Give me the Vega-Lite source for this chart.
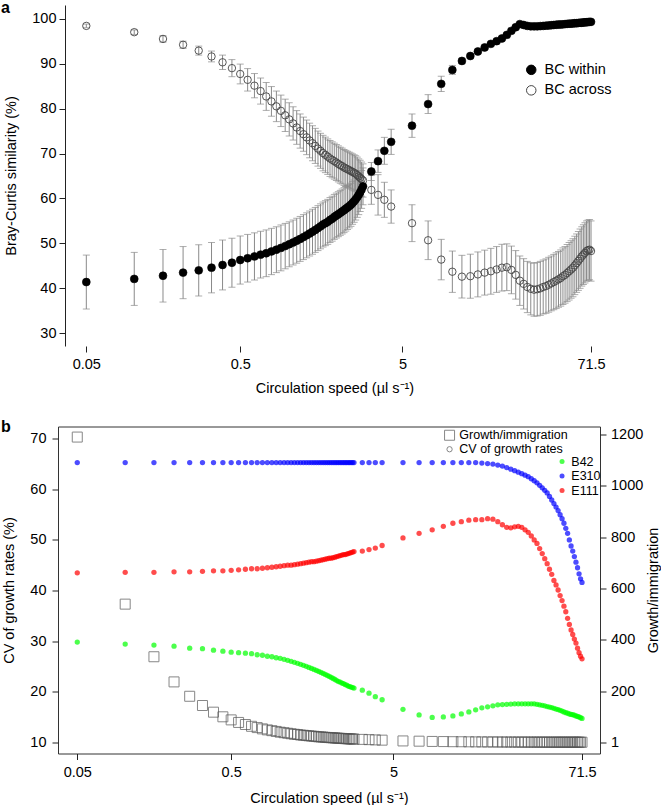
{
  "$schema": "https://vega.github.io/schema/vega-lite/v6.json",
  "padding": 0,
  "spacing": 22.5,
  "config": {
    "font": "Liberation Sans",
    "view": {"stroke": null},
    "axis": {"labelFont": "Liberation Sans", "titleFont": "Liberation Sans", "labelFontSize": 14.5, "titleFontSize": 14.5, "titleFontWeight": "normal", "labelColor": "#000", "titleColor": "#000", "domainColor": "#222", "tickColor": "#222", "tickSize": 6, "grid": false, "labelPadding": 3},
    "legend": {"labelFont": "Liberation Sans", "labelColor": "#000", "padding": 0},
    "title": {"font": "Liberation Sans", "color": "#000"}
  },
  "datasets": {
    "d": [
      {"s":0.05,"w":41.4,"ws":6.0,"a":98.4,"as":0.4,"B42":29.8,"E310":65.3,"E111":43.5,"g":1190},
      {"s":0.106,"w":42.1,"ws":5.9,"a":97.0,"as":0.5,"B42":29.4,"E310":65.3,"E111":43.6,"g":539},
      {"s":0.163,"w":42.8,"ws":5.85,"a":95.5,"as":0.7,"B42":29.2,"E310":65.3,"E111":43.6,"g":334},
      {"s":0.219,"w":43.5,"ws":5.8,"a":94.2,"as":0.8,"B42":29.0,"E310":65.3,"E111":43.7,"g":236},
      {"s":0.275,"w":44.0,"ws":5.7,"a":92.9,"as":1.0,"B42":28.6,"E310":65.3,"E111":43.7,"g":180},
      {"s":0.331,"w":44.6,"ws":5.6,"a":91.6,"as":1.2,"B42":28.5,"E310":65.3,"E111":43.8,"g":144},
      {"s":0.388,"w":45.2,"ws":5.55,"a":90.3,"as":1.6,"B42":28.2,"E310":65.3,"E111":43.9,"g":118},
      {"s":0.444,"w":45.7,"ws":5.45,"a":89.0,"as":1.9,"B42":28.0,"E310":65.3,"E111":43.9,"g":100},
      {"s":0.5,"w":46.3,"ws":5.35,"a":87.7,"as":2.2,"B42":27.8,"E310":65.3,"E111":44.0,"g":88},
      {"s":0.556,"w":46.7,"ws":5.3,"a":86.4,"as":2.5,"B42":27.7,"E310":65.3,"E111":44.1,"g":78},
      {"s":0.613,"w":47.1,"ws":5.25,"a":85.1,"as":2.7,"B42":27.6,"E310":65.3,"E111":44.2,"g":70},
      {"s":0.669,"w":47.5,"ws":5.2,"a":83.9,"as":2.9,"B42":27.5,"E310":65.3,"E111":44.3,"g":63},
      {"s":0.725,"w":47.8,"ws":5.2,"a":82.7,"as":3.1,"B42":27.3,"E310":65.3,"E111":44.3,"g":58},
      {"s":0.781,"w":48.2,"ws":5.15,"a":81.6,"as":3.3,"B42":27.2,"E310":65.3,"E111":44.4,"g":53},
      {"s":0.838,"w":48.6,"ws":5.1,"a":80.5,"as":3.4,"B42":27.0,"E310":65.3,"E111":44.5,"g":49},
      {"s":0.894,"w":49.0,"ws":5.1,"a":79.5,"as":3.5,"B42":26.9,"E310":65.3,"E111":44.6,"g":46},
      {"s":0.95,"w":49.4,"ws":5.05,"a":78.5,"as":3.6,"B42":26.7,"E310":65.3,"E111":44.7,"g":43},
      {"s":1.006,"w":49.8,"ws":5.0,"a":77.6,"as":3.7,"B42":26.6,"E310":65.3,"E111":44.8,"g":40},
      {"s":1.063,"w":50.2,"ws":5.0,"a":76.7,"as":3.7,"B42":26.4,"E310":65.3,"E111":44.9,"g":38},
      {"s":1.119,"w":50.6,"ws":5.0,"a":75.8,"as":3.75,"B42":26.2,"E310":65.3,"E111":45.0,"g":36},
      {"s":1.175,"w":51.0,"ws":5.0,"a":75.0,"as":3.8,"B42":26.0,"E310":65.3,"E111":45.0,"g":34},
      {"s":1.231,"w":51.4,"ws":5.0,"a":74.3,"as":3.8,"B42":25.8,"E310":65.3,"E111":45.1,"g":32},
      {"s":1.288,"w":51.8,"ws":5.0,"a":73.6,"as":3.85,"B42":25.6,"E310":65.3,"E111":45.2,"g":31},
      {"s":1.344,"w":52.2,"ws":5.0,"a":72.9,"as":3.85,"B42":25.4,"E310":65.3,"E111":45.3,"g":29},
      {"s":1.4,"w":52.6,"ws":5.0,"a":72.3,"as":3.9,"B42":25.2,"E310":65.3,"E111":45.4,"g":28},
      {"s":1.456,"w":53.0,"ws":5.0,"a":71.7,"as":3.9,"B42":25.0,"E310":65.3,"E111":45.5,"g":27},
      {"s":1.513,"w":53.4,"ws":5.0,"a":71.1,"as":3.9,"B42":24.8,"E310":65.3,"E111":45.6,"g":26},
      {"s":1.569,"w":53.8,"ws":5.0,"a":70.6,"as":3.9,"B42":24.6,"E310":65.3,"E111":45.7,"g":25},
      {"s":1.625,"w":54.2,"ws":5.0,"a":70.1,"as":3.95,"B42":24.4,"E310":65.3,"E111":45.7,"g":24},
      {"s":1.681,"w":54.5,"ws":5.0,"a":69.7,"as":3.95,"B42":24.2,"E310":65.3,"E111":45.8,"g":23},
      {"s":1.738,"w":54.8,"ws":5.0,"a":69.3,"as":3.95,"B42":24.0,"E310":65.3,"E111":45.9,"g":22},
      {"s":1.794,"w":55.2,"ws":5.0,"a":68.9,"as":4.0,"B42":23.8,"E310":65.3,"E111":46.0,"g":21.5},
      {"s":1.85,"w":55.5,"ws":5.0,"a":68.6,"as":4.0,"B42":23.6,"E310":65.3,"E111":46.1,"g":21},
      {"s":1.906,"w":55.9,"ws":5.0,"a":68.3,"as":4.0,"B42":23.4,"E310":65.3,"E111":46.2,"g":20},
      {"s":1.963,"w":56.2,"ws":5.0,"a":68.0,"as":4.0,"B42":23.2,"E310":65.3,"E111":46.3,"g":19.5},
      {"s":2.019,"w":56.5,"ws":5.0,"a":67.7,"as":4.0,"B42":23.0,"E310":65.3,"E111":46.4,"g":19},
      {"s":2.075,"w":56.8,"ws":5.0,"a":67.4,"as":4.0,"B42":22.8,"E310":65.3,"E111":46.4,"g":18.5},
      {"s":2.131,"w":57.1,"ws":5.0,"a":67.2,"as":4.0,"B42":22.6,"E310":65.3,"E111":46.5,"g":18},
      {"s":2.188,"w":57.4,"ws":5.0,"a":66.9,"as":4.0,"B42":22.4,"E310":65.3,"E111":46.6,"g":17.5},
      {"s":2.244,"w":57.7,"ws":4.95,"a":66.7,"as":4.0,"B42":22.2,"E310":65.3,"E111":46.7,"g":17},
      {"s":2.3,"w":58.0,"ws":4.9,"a":66.5,"as":4.0,"B42":22.0,"E310":65.3,"E111":46.8,"g":16.5},
      {"s":2.356,"w":58.3,"ws":4.85,"a":66.3,"as":4.0,"B42":21.9,"E310":65.3,"E111":46.9,"g":16},
      {"s":2.413,"w":58.6,"ws":4.8,"a":66.1,"as":4.0,"B42":21.7,"E310":65.3,"E111":47.0,"g":15.7},
      {"s":2.469,"w":59.0,"ws":4.75,"a":65.9,"as":4.0,"B42":21.6,"E310":65.3,"E111":47.1,"g":15.3},
      {"s":2.525,"w":59.4,"ws":4.7,"a":65.7,"as":4.0,"B42":21.4,"E310":65.3,"E111":47.1,"g":15},
      {"s":2.581,"w":59.8,"ws":4.6,"a":65.5,"as":4.0,"B42":21.3,"E310":65.3,"E111":47.2,"g":14.6},
      {"s":2.638,"w":60.3,"ws":4.5,"a":65.2,"as":4.0,"B42":21.1,"E310":65.3,"E111":47.3,"g":14.3},
      {"s":2.694,"w":60.8,"ws":4.4,"a":64.9,"as":3.9,"B42":21.0,"E310":65.3,"E111":47.4,"g":14},
      {"s":2.75,"w":61.4,"ws":4.3,"a":64.6,"as":3.9,"B42":20.9,"E310":65.3,"E111":47.5,"g":13.7},
      {"s":2.806,"w":62.0,"ws":4.2,"a":64.3,"as":3.8,"B42":20.8,"E310":65.3,"E111":47.6,"g":13.4},
      {"s":2.863,"w":62.7,"ws":4.1,"a":64.0,"as":3.7,"B42":20.7,"E310":65.3,"E111":47.7,"g":13.1},
      {"s":3.22,"w":66.0,"ws":2.0,"a":61.9,"as":3.2,"B42":20.3,"E310":65.3,"E111":47.8,"g":12},
      {"s":3.54,"w":68.3,"ws":2.5,"a":60.8,"as":4.5,"B42":19.7,"E310":65.3,"E111":48.1,"g":11},
      {"s":3.87,"w":70.6,"ws":3.0,"a":59.7,"as":3.9,"B42":19.0,"E310":65.3,"E111":48.4,"g":10},
      {"s":4.26,"w":72.6,"ws":2.8,"a":58.2,"as":3.7,"B42":18.4,"E310":65.3,"E111":48.9,"g":9},
      {"s":5.72,"w":76.2,"ws":2.6,"a":54.5,"as":4.1,"B42":16.5,"E310":65.3,"E111":50.4,"g":6},
      {"s":7.18,"w":81.0,"ws":2.1,"a":50.7,"as":4.3,"B42":15.4,"E310":65.3,"E111":51.3,"g":5},
      {"s":8.64,"w":85.5,"ws":1.7,"a":46.4,"as":4.5,"B42":14.9,"E310":65.3,"E111":52.0,"g":4},
      {"s":10.11,"w":88.6,"ws":1.0,"a":43.7,"as":4.6,"B42":15.0,"E310":65.3,"E111":52.7,"g":3.5},
      {"s":11.57,"w":90.6,"ws":0.6,"a":42.6,"as":4.75,"B42":15.2,"E310":65.3,"E111":53.3,"g":3},
      {"s":13.03,"w":91.7,"ws":0.4,"a":42.7,"as":4.9,"B42":15.6,"E310":65.3,"E111":53.6,"g":2.8},
      {"s":14.49,"w":92.7,"ws":0.3,"a":43.1,"as":5.0,"B42":16.0,"E310":65.3,"E111":53.9,"g":2.5},
      {"s":15.95,"w":93.6,"ws":0.3,"a":43.5,"as":5.0,"B42":16.4,"E310":65.3,"E111":54.0,"g":2.3},
      {"s":17.41,"w":94.4,"ws":0.3,"a":43.8,"as":5.1,"B42":16.8,"E310":65.2,"E111":54.0,"g":2.2},
      {"s":18.88,"w":95.0,"ws":0.3,"a":44.2,"as":5.1,"B42":17.0,"E310":65.1,"E111":54.2,"g":2},
      {"s":20.34,"w":95.6,"ws":0.3,"a":44.6,"as":5.2,"B42":17.2,"E310":65.0,"E111":54.1,"g":2},
      {"s":21.8,"w":96.4,"ws":0.3,"a":44.7,"as":5.2,"B42":17.4,"E310":64.8,"E111":53.6,"g":1.9},
      {"s":23.26,"w":97.3,"ws":0.3,"a":44.1,"as":5.3,"B42":17.45,"E310":64.6,"E111":53.0,"g":1.8},
      {"s":24.72,"w":98.1,"ws":0.3,"a":43.0,"as":5.4,"B42":17.5,"E310":64.3,"E111":52.5,"g":1.7},
      {"s":26.19,"w":98.8,"ws":0.3,"a":41.7,"as":5.5,"B42":17.55,"E310":64.0,"E111":52.4,"g":1.7},
      {"s":27.65,"w":98.6,"ws":0.3,"a":41.0,"as":5.6,"B42":17.6,"E310":63.7,"E111":52.6,"g":1.6},
      {"s":29.11,"w":98.4,"ws":0.3,"a":40.3,"as":5.7,"B42":17.6,"E310":63.4,"E111":52.7,"g":1.6},
      {"s":30.57,"w":98.3,"ws":0.3,"a":39.9,"as":5.8,"B42":17.6,"E310":63.1,"E111":52.5,"g":1.5},
      {"s":32.03,"w":98.3,"ws":0.3,"a":39.7,"as":5.9,"B42":17.6,"E310":62.8,"E111":52.0,"g":1.5},
      {"s":33.49,"w":98.3,"ws":0.3,"a":39.8,"as":5.95,"B42":17.6,"E310":62.5,"E111":51.5,"g":1.5},
      {"s":34.96,"w":98.35,"ws":0.3,"a":40.0,"as":6.0,"B42":17.6,"E310":62.1,"E111":50.8,"g":1.4},
      {"s":36.42,"w":98.4,"ws":0.3,"a":40.3,"as":6.0,"B42":17.6,"E310":61.7,"E111":50.0,"g":1.4},
      {"s":37.88,"w":98.45,"ws":0.3,"a":40.5,"as":6.05,"B42":17.5,"E310":61.3,"E111":49.3,"g":1.4},
      {"s":39.34,"w":98.5,"ws":0.3,"a":40.8,"as":6.1,"B42":17.4,"E310":60.8,"E111":48.3,"g":1.3},
      {"s":40.8,"w":98.55,"ws":0.3,"a":41.1,"as":6.1,"B42":17.3,"E310":60.3,"E111":47.3,"g":1.3},
      {"s":42.27,"w":98.6,"ws":0.3,"a":41.4,"as":6.15,"B42":17.2,"E310":59.8,"E111":46.3,"g":1.3},
      {"s":43.73,"w":98.65,"ws":0.3,"a":41.7,"as":6.2,"B42":17.05,"E310":59.3,"E111":45.3,"g":1.2},
      {"s":45.19,"w":98.7,"ws":0.3,"a":42.0,"as":6.2,"B42":16.95,"E310":58.6,"E111":44.2,"g":1.2},
      {"s":46.65,"w":98.7,"ws":0.3,"a":42.3,"as":6.25,"B42":16.85,"E310":57.9,"E111":43.2,"g":1.2},
      {"s":48.11,"w":98.75,"ws":0.3,"a":42.7,"as":6.3,"B42":16.7,"E310":57.2,"E111":42.0,"g":1.2},
      {"s":49.58,"w":98.8,"ws":0.3,"a":43.0,"as":6.3,"B42":16.55,"E310":56.5,"E111":41.1,"g":1.1},
      {"s":51.04,"w":98.85,"ws":0.3,"a":43.4,"as":6.35,"B42":16.45,"E310":55.8,"E111":40.1,"g":1.1},
      {"s":52.5,"w":98.9,"ws":0.3,"a":43.8,"as":6.4,"B42":16.3,"E310":55.0,"E111":39.0,"g":1.1},
      {"s":53.96,"w":98.9,"ws":0.3,"a":44.2,"as":6.4,"B42":16.15,"E310":54.2,"E111":38.0,"g":1.1},
      {"s":55.42,"w":98.95,"ws":0.3,"a":44.6,"as":6.45,"B42":16.0,"E310":53.3,"E111":36.9,"g":1.1},
      {"s":56.88,"w":99.0,"ws":0.3,"a":45.1,"as":6.5,"B42":15.85,"E310":52.3,"E111":35.8,"g":1.0},
      {"s":58.35,"w":99.0,"ws":0.3,"a":45.6,"as":6.5,"B42":15.75,"E310":51.3,"E111":34.5,"g":1.0},
      {"s":59.81,"w":99.05,"ws":0.3,"a":46.1,"as":6.55,"B42":15.6,"E310":50.0,"E111":33.3,"g":1.0},
      {"s":61.27,"w":99.1,"ws":0.3,"a":46.6,"as":6.6,"B42":15.5,"E310":48.8,"E111":32.2,"g":1.0},
      {"s":62.73,"w":99.1,"ws":0.3,"a":47.1,"as":6.6,"B42":15.45,"E310":47.8,"E111":31.3,"g":1.0},
      {"s":64.19,"w":99.15,"ws":0.3,"a":47.5,"as":6.65,"B42":15.35,"E310":46.7,"E111":30.4,"g":1.0},
      {"s":65.66,"w":99.2,"ws":0.3,"a":47.9,"as":6.7,"B42":15.2,"E310":45.6,"E111":29.6,"g":1.0},
      {"s":67.12,"w":99.2,"ws":0.3,"a":48.3,"as":6.7,"B42":15.1,"E310":44.5,"E111":28.6,"g":1.0},
      {"s":68.58,"w":99.25,"ws":0.3,"a":48.5,"as":6.7,"B42":15.0,"E310":43.3,"E111":27.7,"g":1.0},
      {"s":70.04,"w":99.3,"ws":0.3,"a":48.6,"as":6.7,"B42":14.85,"E310":42.3,"E111":27.0,"g":1.0},
      {"s":71.5,"w":99.3,"ws":0.3,"a":48.3,"as":6.7,"B42":14.7,"E310":41.6,"E111":26.5,"g":1.0}
    ]
  },
  "resolve": {"scale": {"x": "independent", "y": "independent", "fill": "independent", "stroke": "independent", "shape": "independent", "size": "independent", "color": "independent"}},
  "vconcat": [
    {
      "title": {"text": "a", "frame": "group", "anchor": "start", "orient": "top", "dx": -57, "offset": -11, "baseline": "top", "fontSize": 16, "fontWeight": "bold"},
      "width": 553,
      "height": 341,
      "data": {"name": "d"},
      "encoding": {
        "x": {"field": "s", "type": "quantitative", "title": "Circulation speed (µl s⁻¹)",
          "scale": {"type": "symlog", "constant": 0.008, "domain": [0.0309, 94.77], "nice": false},
          "axis": {"values": [0.05, 0.5, 5, 71.5], "labelExpr": "format(datum.value, '~g')", "domain": false, "title": "Circulation speed (µl s⁻¹)", "labelPadding": 5, "titlePadding": 10.5}}
      },
      "layer": [
        {"data": {"values": [{}]}, "mark": {"type": "rule", "color": "#222", "strokeWidth": 1},
         "encoding": {"x": {"datum": 0.035, "type": "quantitative"}, "x2": {"datum": 94.77}, "y": {"datum": 27.17, "type": "quantitative", "title": "Bray-Curtis similarity (%)"}}},
        {"mark": {"type": "errorbar", "ticks": {"size": 7}, "color": "#8a8a8a", "thickness": 1},
         "encoding": {"y": {"field": "a", "type": "quantitative", "title": "Bray-Curtis similarity (%)",
           "scale": {"domain": [27.17, 103.05], "nice": false, "zero": false},
           "axis": {"values": [30, 40, 50, 60, 70, 80, 90, 100], "title": "Bray-Curtis similarity (%)", "offset": -7, "titlePadding": 13.4, "labelPadding": 3}},
           "yError": {"field": "as"}}},
        {"mark": {"type": "errorbar", "ticks": {"size": 7}, "color": "#8a8a8a", "thickness": 1},
         "encoding": {"y": {"field": "w", "type": "quantitative", "title": "Bray-Curtis similarity (%)"}, "yError": {"field": "ws"}}},
        {"mark": {"type": "point", "filled": true, "size": 55, "strokeWidth": 0.9, "opacity": 1},
         "encoding": {"y": {"field": "a", "type": "quantitative", "title": "Bray-Curtis similarity (%)"},
           "fill": {"datum": "BC across", "scale": {"domain": ["BC within", "BC across"], "range": ["#000000", "transparent"]},
             "legend": {"orient": "none", "legendX": 466, "legendY": 57.6, "title": null, "symbolSize": 90, "labelFontSize": 14.5, "labelOffset": 6, "rowPadding": 5.5, "symbolStrokeWidth": 1}},
           "stroke": {"datum": "BC across", "scale": {"domain": ["BC within", "BC across"], "range": ["#000000", "#444444"]},
             "legend": {"orient": "none", "legendX": 466, "legendY": 57.6, "title": null, "symbolSize": 90, "labelFontSize": 14.5, "labelOffset": 6, "rowPadding": 5.5, "symbolStrokeWidth": 1}}}},
        {"mark": {"type": "point", "filled": true, "size": 62, "strokeWidth": 0.6, "opacity": 1},
         "encoding": {"y": {"field": "w", "type": "quantitative", "title": "Bray-Curtis similarity (%)"},
           "fill": {"datum": "BC within"},
           "stroke": {"datum": "BC within"}}},
        {"data": {"values": [{}]}, "mark": {"type": "rule", "strokeDash": [12, 6], "strokeWidth": 1.5, "color": "#000"},
         "encoding": {"x": {"datum": 2.07, "type": "quantitative"}}},
        {"data": {"values": [{}]}, "mark": {"type": "rule", "strokeDash": [12, 6], "strokeWidth": 1.5, "color": "#000"},
         "encoding": {"x": {"datum": 3.84, "type": "quantitative"}}},
        {"data": {"values": [{}]}, "mark": {"type": "text", "text": ["Non-homogeneous", "metacommunity"], "fontSize": 14.5, "lineHeight": 18, "align": "center", "baseline": "middle"},
         "encoding": {"x": {"datum": 0.1795, "type": "quantitative"}, "y": {"datum": 63.7, "type": "quantitative", "title": "Bray-Curtis similarity (%)"}}},
        {"data": {"values": [{}]}, "mark": {"type": "text", "text": ["Homogeneous", "metacommunity"], "fontSize": 14.5, "lineHeight": 18, "align": "center", "baseline": "middle"},
         "encoding": {"x": {"datum": 17.46, "type": "quantitative"}, "y": {"datum": 63.7, "type": "quantitative", "title": "Bray-Curtis similarity (%)"}}}
      ]
    },
    {
      "title": {"text": "b", "frame": "group", "anchor": "start", "orient": "top", "dx": -57, "offset": -8.06, "baseline": "top", "fontSize": 16, "fontWeight": "bold"},
      "width": 542,
      "height": 327,
      "view": {"stroke": "#333333", "strokeWidth": 1},
      "data": {"name": "d"},
      "encoding": {
        "x": {"field": "s", "type": "quantitative", "title": "Circulation speed (µl s⁻¹)",
          "scale": {"type": "symlog", "constant": 0.008, "domain": [0.0362, 92.14], "nice": false},
          "axis": {"values": [0.05, 0.5, 5, 71.5], "labelExpr": "format(datum.value, '~g')", "domain": false, "title": "Circulation speed (µl s⁻¹)", "labelPadding": 5.5, "titlePadding": 12.5}}
      },
      "layer": [
        {"mark": {"type": "point", "filled": false, "color": "#555555", "strokeWidth": 1},
         "encoding": {
           "y": {"field": "g", "type": "quantitative", "title": "Growth/immigration",
             "scale": {"domain": [-43, 1231.2], "nice": false, "zero": false},
             "axis": {"orient": "right", "values": [1, 200, 400, 600, 800, 1000, 1200], "labelExpr": "format(datum.value, 'd')", "title": "Growth/immigration", "domain": false, "titleAngle": 270, "titleBaseline": "top", "titlePadding": 4, "labelPadding": 4.5}},
           "shape": {"datum": "Growth/immigration", "scale": {"domain": ["Growth/immigration", "CV of growth rates"], "range": ["square", "circle"]},
             "legend": {"orient": "none", "legendX": 385.3, "legendY": 2.5, "title": null, "labelFontSize": 12.5, "labelOffset": 3.5, "rowPadding": 0, "symbolStrokeWidth": 1}},
           "size": {"datum": "Growth/immigration", "scale": {"domain": ["Growth/immigration", "CV of growth rates"], "range": [100, 28]},
             "legend": {"orient": "none", "legendX": 385.3, "legendY": 2.5, "title": null, "labelFontSize": 12.5, "labelOffset": 3.5, "rowPadding": 0, "symbolStrokeWidth": 1}}}},
        {"layer": [
          {"transform": [{"fold": ["B42", "E310", "E111"], "as": ["strain", "cv"]}],
           "mark": {"type": "point", "filled": true, "size": 28, "opacity": 0.7, "strokeWidth": 0},
           "encoding": {
             "y": {"field": "cv", "type": "quantitative", "title": "CV of growth rates (%)",
               "scale": {"domain": [7.77, 72.43], "nice": false, "zero": false},
               "axis": {"orient": "left", "values": [10, 20, 30, 40, 50, 60, 70], "title": "CV of growth rates (%)", "domain": false, "titlePadding": 13, "labelPadding": 6}},
             "color": {"field": "strain", "type": "nominal", "scale": {"domain": ["B42", "E310", "E111"], "range": ["#00ff00", "#0000ff", "#ff0000"]},
               "legend": {"orient": "none", "legendX": 497.8, "legendY": 28.8, "title": null, "labelFontSize": 12.5, "labelOffset": 3, "rowPadding": 1.5, "symbolSize": 25}}}},
          {"data": {"values": [{}]}, "mark": {"type": "rule", "strokeDash": [12, 6], "strokeWidth": 1.5, "color": "#000"},
           "encoding": {"x": {"datum": 2.19, "type": "quantitative"}}},
          {"data": {"values": [{}]}, "mark": {"type": "rule", "strokeDash": [12, 6], "strokeWidth": 1.5, "color": "#000"},
           "encoding": {"x": {"datum": 3.815, "type": "quantitative"}}},
          {"data": {"values": [{}]}, "mark": {"type": "text", "text": ["Non-homogeneous", "metacommunity"], "fontSize": 14.5, "lineHeight": 17, "align": "center", "baseline": "middle"},
           "encoding": {"x": {"datum": 0.448, "type": "quantitative"}, "y": {"datum": 36.57, "type": "quantitative", "title": "CV of growth rates (%)"}}},
          {"data": {"values": [{}]}, "mark": {"type": "text", "text": ["Homogeneous", "metacommunity"], "fontSize": 14.5, "lineHeight": 17, "align": "center", "baseline": "middle"},
           "encoding": {"x": {"datum": 8.86, "type": "quantitative"}, "y": {"datum": 36.57, "type": "quantitative", "title": "CV of growth rates (%)"}}}
        ]}
      ],
      "resolve": {"scale": {"y": "independent"}, "axis": {"y": "independent"}}
    }
  ]
}
